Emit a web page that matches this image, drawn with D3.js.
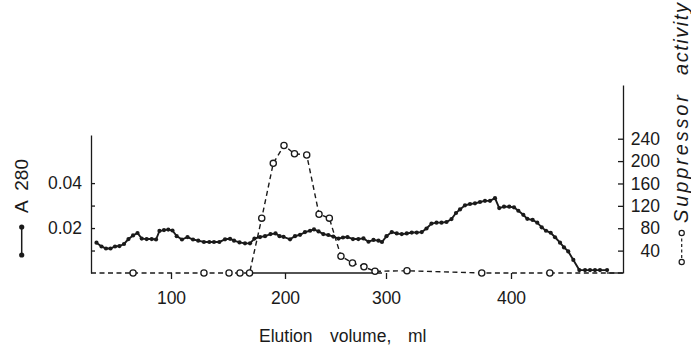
<!DOCTYPE html>
<html>
<head>
<meta charset="utf-8">
<script src="https://cdn.jsdelivr.net/npm/d3@7"></script>
<style>
  body { margin: 0; background: #fff; }
  text { font-family: "Liberation Sans", Arial, sans-serif; fill: #1a1a1a; }
</style>
</head>
<body>
<svg id="chart"></svg>
<script>
// elution volume (ml) and absorbance of each fraction
const a280Volume = [34.8,39.2,43.1,47.1,51.0,54.9,58.9,62.8,66.8,70.7,
    74.4,78.7,83.1,86.9,89.9,93.9,97.6,101.3,105.0,109.6,
    114.5,119.3,123.9,128.9,133.6,137.7,142.4,147.4,151.8,155.3,
    160.1,164.9,169.3,173.2,178.1,182.5,187.3,191.7,195.2,198.7,
    205.0,209.9,214.9,219.8,224.8,228.7,233.2,237.9,242.9,247.8,
    253.0,257.4,261.9,267.3,272.6,277.7,282.7,287.6,292.6,296.0,
    300.4,304.6,308.6,312.6,316.6,320.6,324.6,328.6,332.4,336.4,
    340.4,344.4,348.4,352.4,356.0,359.2,363.2,367.2,371.2,375.2,
    379.2,383.2,387.2,390.6,394.4,398.6,402.4,405.9,409.9,413.1,
    417.4,421.1,424.7,428.1,431.9,435.4,439.4,442.6,446.0,450.1,
    454.9,459.5,463.5,467.5,471.5,477.2];
const a280Values = [0.0135,0.0118,0.0109,0.0109,0.0118,0.0120,0.0129,0.0151,0.0167,0.0178,
    0.0153,0.0151,0.0151,0.0149,0.0187,0.0191,0.0193,0.0189,0.0164,0.0149,
    0.0160,0.0149,0.0144,0.0138,0.0138,0.0138,0.0138,0.0150,0.0152,0.0144,
    0.0136,0.0132,0.0132,0.0153,0.0160,0.0164,0.0173,0.0176,0.0164,0.0161,
    0.0150,0.0164,0.0170,0.0182,0.0188,0.0194,0.0185,0.0173,0.0169,0.0162,
    0.0153,0.0158,0.0160,0.0151,0.0151,0.0154,0.0139,0.0147,0.0144,0.0138,
    0.0164,0.0182,0.0176,0.0173,0.0176,0.0180,0.0180,0.0182,0.0198,0.0220,
    0.0224,0.0224,0.0227,0.0240,0.0267,0.0283,0.0301,0.0307,0.0310,0.0316,
    0.0321,0.0321,0.0333,0.0289,0.0295,0.0295,0.0292,0.0277,0.0259,0.0241,
    0.0236,0.0224,0.0203,0.0188,0.0179,0.0159,0.0135,0.0114,0.0096,0.0058,
    0.0013,0.0013,0.0013,0.0013,0.0013,0.0013];

// suppressor activity of the tested fractions
const suppVolume = [66.8,128.9,150.9,160.5,168.9,179.6,189.7,199.1,209.4,221.5,
    233.7,243.9,255.4,266.8,278.2,289.1,316.8,376.6,431.2];
const suppValues = [0,0,0,0,0,98,196,228,213,211,105,98,30,18,11,3,4,0,0];

const xTicks = [100, 200, 300, 400];
const leftTicks = [0.01, 0.02, 0.03, 0.04];
const leftLabelled = [0.02, 0.04];
const rightTicks = [40, 80, 120, 160, 200, 240];

const width = 691, height = 347;
const svg = d3.select("#chart").attr("width", width).attr("height", height);

// the hand drawn volume axis is not quite even, so follow its ticks
const x = d3.scaleLinear()
    .domain([30, 100, 200, 300, 400, 490])
    .range([91, 171, 285, 386, 511, 623]);
const yLeft = d3.scaleLinear().domain([0, 0.0614]).range([273, 135]);
const yRight = d3.scaleLinear().domain([0, 336]).range([273, 85]);

const ink = "#1a1a1a";
const fontSize = "17.5px";

// left axis, ticks pointing inwards
const leftAxis = svg.append("g")
    .attr("transform", `translate(${x.range()[0]},0)`)
    .call(d3.axisLeft(yLeft)
        .tickValues(leftTicks)
        .tickSize(-4)
        .tickSizeOuter(0)
        .tickPadding(9)
        .tickFormat(d => leftLabelled.includes(d) ? d3.format(".2f")(d) : ""));

// right axis
const rightAxis = svg.append("g")
    .attr("transform", `translate(${x.range()[x.range().length - 1]},0)`)
    .call(d3.axisRight(yRight)
        .tickValues(rightTicks)
        .tickSize(-5)
        .tickSizeOuter(0));
rightAxis.selectAll("text").attr("x", 37).attr("text-anchor", "end");

// bottom axis: ticks only, the baseline is drawn below
const bottomAxis = svg.append("g")
    .attr("transform", `translate(0,${yLeft(0)})`)
    .call(d3.axisBottom(x).tickValues(xTicks).tickSize(6).tickFormat(d3.format("d")));
bottomAxis.select(".domain").remove();
bottomAxis.selectAll("text").attr("y", 19);

[leftAxis, rightAxis, bottomAxis].forEach(g => {
    g.selectAll("path, line").attr("stroke", ink).attr("stroke-width", 1.3);
    g.selectAll("text")
        .style("font-size", fontSize)
        .style("font-family", "'Liberation Sans', Arial, sans-serif")
        .attr("fill", ink);
});

// solid parts of the baseline (the rest is the dashed zero line)
const solidBase = [[169, 296], [477, 490]];
svg.selectAll(".base")
    .data(solidBase)
    .enter()
    .append("line")
    .attr("class", "base")
    .attr("x1", d => x(d[0]))
    .attr("x2", d => x(d[1]))
    .attr("y1", yLeft(0))
    .attr("y2", yLeft(0))
    .attr("stroke", ink)
    .attr("stroke-width", 1.3);

// suppressor activity, dashed with open circles
const suppData = suppVolume.map((v, i) => ({ v: v, s: suppValues[i] }));
const zeroLine = [[x.domain()[0], suppVolume[0]], [suppVolume[suppVolume.length - 1], x.domain()[x.domain().length - 1]]];
svg.selectAll(".zero")
    .data(zeroLine)
    .enter()
    .append("line")
    .attr("x1", d => x(d[0]))
    .attr("x2", d => x(d[1]))
    .attr("y1", yRight(0))
    .attr("y2", yRight(0))
    .attr("stroke", ink)
    .attr("stroke-width", 1.4)
    .attr("stroke-dasharray", "5,3.5");

svg.append("path")
    .datum(suppData)
    .attr("d", d3.line().x(d => x(d.v)).y(d => yRight(d.s)))
    .attr("fill", "none")
    .attr("stroke", ink)
    .attr("stroke-width", 1.4)
    .attr("stroke-dasharray", "5,3.5");

svg.selectAll(".supp")
    .data(suppData)
    .enter()
    .append("circle")
    .attr("class", "supp")
    .attr("cx", d => x(d.v))
    .attr("cy", d => yRight(d.s))
    .attr("r", 3.1)
    .attr("fill", "#fff")
    .attr("stroke", ink)
    .attr("stroke-width", 1.3);

// A280, solid line with filled dots
const a280Data = a280Volume.map((v, i) => ({ v: v, a: a280Values[i] }));
svg.append("path")
    .datum(a280Data)
    .attr("d", d3.line().x(d => x(d.v)).y(d => yLeft(d.a)))
    .attr("fill", "none")
    .attr("stroke", ink)
    .attr("stroke-width", 1.9);

svg.selectAll(".a280")
    .data(a280Data)
    .enter()
    .append("circle")
    .attr("class", "a280")
    .attr("cx", d => x(d.v))
    .attr("cy", d => yLeft(d.a))
    .attr("r", 2.1)
    .attr("fill", ink);

// x axis title
const xTitle = svg.append("text")
    .attr("y", 342)
    .style("font-size", fontSize);
xTitle.append("tspan").attr("x", 259).text("Elution");
xTitle.append("tspan").attr("x", 330).text("volume,");
xTitle.append("tspan").attr("x", 408).text("ml");

// left title with its symbol
svg.append("text")
    .attr("transform", "translate(28,186) rotate(-90)")
    .attr("text-anchor", "middle")
    .attr("xml:space", "preserve")
    .style("font-size", "19px")
    .text("A  280");

svg.append("line")
    .attr("x1", 21.7).attr("x2", 21.7)
    .attr("y1", 227).attr("y2", 255)
    .attr("stroke", ink).attr("stroke-width", 1.5);
svg.selectAll(".leg1")
    .data([227, 255])
    .enter()
    .append("circle")
    .attr("cx", 21.7).attr("cy", d => d).attr("r", 2.6).attr("fill", ink);

// right title with its symbol
svg.append("text")
    .attr("transform", "translate(688,223) rotate(-90)")
    .style("font-size", "20px")
    .style("font-style", "italic")
    .attr("textLength", 128)
    .attr("lengthAdjust", "spacing")
    .text("Suppressor");
svg.append("text")
    .attr("transform", "translate(688,75) rotate(-90)")
    .style("font-size", "20px")
    .style("font-style", "italic")
    .attr("textLength", 72)
    .attr("lengthAdjust", "spacing")
    .text("activity");

svg.append("line")
    .attr("x1", 681.7).attr("x2", 681.7)
    .attr("y1", 233).attr("y2", 262)
    .attr("stroke", ink).attr("stroke-width", 1.2)
    .attr("stroke-dasharray", "3,2.5");
svg.selectAll(".leg2")
    .data([233, 262])
    .enter()
    .append("circle")
    .attr("cx", 681.7).attr("cy", d => d).attr("r", 2.6)
    .attr("fill", "#fff").attr("stroke", ink).attr("stroke-width", 1.2);
</script>
</body>
</html>
